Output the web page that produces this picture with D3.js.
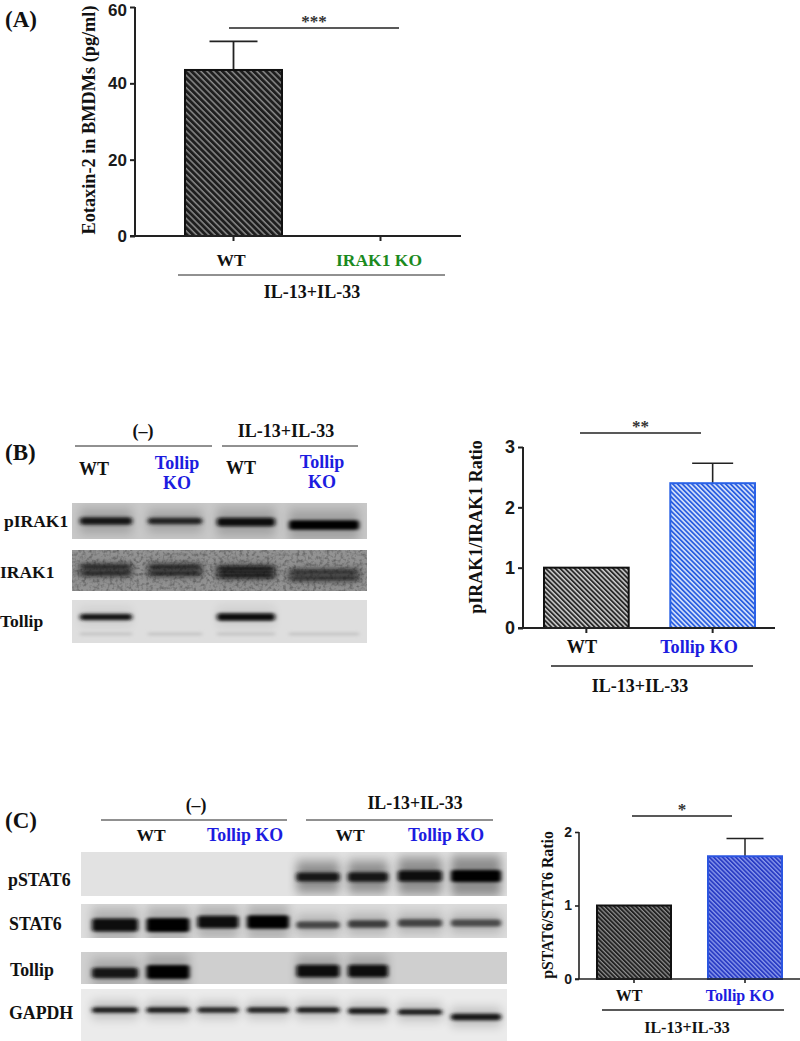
<!DOCTYPE html>
<html><head><meta charset="utf-8">
<script src="https://cdnjs.cloudflare.com/ajax/libs/d3/7.8.5/d3.min.js"></script>
<style>html,body{margin:0;background:#fff}svg{display:block}</style></head>
<body><svg id="c" width="800" height="1041"></svg>
<script>
// ---- data ----
const groupsA = ["WT", "IRAK1 KO"];
const meanA = [43.5, 0];
const errorTopA = [51, null];
const ticksA = [0, 20, 40, 60];

const groupsB = ["WT", "Tollip KO"];
const meanB = [1, 2.4];
const errorTopB = [null, 2.73];
const ticksB = [0, 1, 2, 3];

const groupsC = ["WT", "Tollip KO"];
const meanC = [1, 1.67];
const errorTopC = [null, 1.91];
const ticksC = [0, 1, 2];

// western blots: band strength per lane (0 = no band, 1 = saturated)
const lanesB = ["WT-", "KO-", "WT+", "KO+"];
const blotRowsB = ["pIRAK1", "IRAK1", "Tollip"];
const pIRAK1Bands = [0.72, 0.6, 0.85, 1];
const IRAK1Bands = [0.6, 0.62, 0.82, 0.55];
const TollipBandsB = [0.72, 0, 0.9, 0];

const lanesC = ["WT-1", "WT-2", "KO-1", "KO-2", "WT+1", "WT+2", "KO+1", "KO+2"];
const blotRowsC = ["pSTAT6", "STAT6", "Tollip", "GAPDH"];
const pSTAT6Bands = [0, 0, 0, 0, 0.72, 0.74, 0.88, 1];
const STAT6Bands = [0.9, 1, 0.85, 0.95, 0.35, 0.4, 0.36, 0.32];
const TollipBandsC = [0.72, 1, 0, 0, 0.88, 0.88, 0, 0];
const GAPDHBands = [0.68, 0.68, 0.6, 0.62, 0.68, 0.7, 0.68, 0.78];

const serif = "'Liberation Serif','Times New Roman',serif";
const sans = "'Liberation Sans',Arial,sans-serif";
const BLUE = "#1c1ce0", GREEN = "#1b8a1e", INK = "#111";

const svg = d3.select("#c");
const defs = svg.append("defs");
function hatch(id, bg, fg, period, sw) {
  const p = defs.append("pattern").attr("id", id).attr("patternUnits", "userSpaceOnUse")
    .attr("width", period).attr("height", period).attr("patternTransform", "rotate(45)");
  p.append("rect").attr("width", period).attr("height", period).attr("fill", bg);
  p.append("rect").attr("width", period).attr("height", sw).attr("fill", fg);
}
hatch("hA", "#1e1e1e", "#8a8a8a", 4.4, 1.5);
hatch("hBw", "#2a2a2a", "#cfcfcf", 3.4, 1.5);
hatch("hBk", "#2b5fe0", "#d6e2fb", 3.4, 1.6);
hatch("hCw", "#222", "#909090", 3.1, 1.2);
hatch("hCk", "#2a3cc4", "#8b9aec", 3.1, 1.3);

const f1 = defs.append("filter").attr("id", "band").attr("x", "-20%").attr("y", "-150%").attr("width", "140%").attr("height", "400%");
f1.append("feGaussianBlur").attr("stdDeviation", "2.2 1.5");
const f1b = defs.append("filter").attr("id", "bandSoft").attr("x", "-20%").attr("y", "-300%").attr("width", "140%").attr("height", "700%");
f1b.append("feGaussianBlur").attr("stdDeviation", "3 2.1");
const f2 = defs.append("filter").attr("id", "halo").attr("x", "-30%").attr("y", "-300%").attr("width", "160%").attr("height", "700%");
f2.append("feGaussianBlur").attr("stdDeviation", "5 6");
const f3 = defs.append("filter").attr("id", "grain").attr("x", "0").attr("y", "0").attr("width", "100%").attr("height", "100%");
f3.append("feTurbulence").attr("type", "fractalNoise").attr("baseFrequency", "0.3").attr("numOctaves", 2).attr("seed", 7);
f3.append("feColorMatrix").attr("values", "0 0 0 0 0  0 0 0 0 0  0 0 0 0 0  0 0 0 2.4 -1.05");

function txt(s, x, y, size, opt = {}) {
  const t = svg.append("text").attr("x", x).attr("y", y).text(s)
    .attr("font-family", opt.family || serif).attr("font-weight", "bold")
    .attr("font-size", size).attr("fill", opt.fill || INK)
    .attr("text-anchor", opt.anchor || "middle");
  if (opt.rotate) t.attr("transform", `rotate(-90 ${x} ${y})`);
  return t;
}
function rule(x1, x2, y, w = 1, c = "#222") {
  svg.append("line").attr("x1", x1).attr("x2", x2).attr("y1", y).attr("y2", y).attr("stroke", c).attr("stroke-width", w);
}

function barPanel(o) {
  const y = d3.scaleLinear().domain(o.domain).range([o.y0, o.yTop]);
  const x = d3.scaleBand().domain(o.groups).range(o.xRange).paddingInner(o.inner).paddingOuter(0);
  const g = svg.append("g");
  const rows = o.groups.map((k, i) => ({ k, v: o.mean[i], e: o.err[i], i })).filter(d => d.v > 0);
  const mid = d => x(d.k) + x.bandwidth() / 2;
  const withErr = rows.filter(d => d.e != null);
  g.selectAll("line.stem").data(withErr).join("line").attr("class", "stem").attr("x1", mid).attr("x2", mid)
    .attr("y1", d => y(d.v)).attr("y2", d => y(d.e)).attr("stroke", "#222").attr("stroke-width", o.ew);
  g.selectAll("line.cap").data(withErr).join("line").attr("class", "cap").attr("x1", d => mid(d) - o.cap).attr("x2", d => mid(d) + o.cap)
    .attr("y1", d => y(d.e)).attr("y2", d => y(d.e)).attr("stroke", "#222").attr("stroke-width", o.ew);
  g.selectAll("rect.bar").data(rows).join("rect").attr("class", "bar").attr("x", d => x(d.k)).attr("width", x.bandwidth())
    .attr("y", d => y(d.v)).attr("height", d => y(0) - y(d.v))
    .attr("fill", d => `url(#${o.fills[d.i]})`).attr("stroke", d => o.strokes[d.i]).attr("stroke-width", 2);
  // axes
  const ax = d3.axisLeft(y).tickValues(o.ticks).tickSize(o.tick).tickPadding(3).tickFormat(d3.format("d"));
  const ag = g.append("g").attr("transform", `translate(${o.xAxis},0)`).call(ax);
  ag.selectAll("path,line").attr("stroke", "#222").attr("stroke-width", o.aw);
  ag.select("path").attr("d", `M0,${o.y0}V${o.yTop}`);
  ag.selectAll("text").attr("font-family", sans).attr("font-weight", "bold").attr("font-size", o.tickFont).attr("fill", "#1a1a1a");
  if (o.topNudge) ag.selectAll("text").filter(d => d === o.domain[1]).attr("y", o.topNudge);
  const bx = d3.axisBottom(x).tickSize(o.tick).tickFormat("");
  const bg = g.append("g").attr("transform", `translate(0,${o.y0})`).call(bx);
  bg.selectAll("path,line").attr("stroke", "#222").attr("stroke-width", o.aw);
  bg.select("path").attr("d", `M${o.xAxis - o.tick},0H${o.xEnd}`);
  // labels
  o.groups.forEach((k, i) => txt(k, o.labelX[i], o.labelY, o.labelFont, { fill: o.labelFill[i] }));
  txt(o.ylabel, o.ylabelX, o.ylabelY, o.ylabelFont, { rotate: true });
  rule(o.sig[0], o.sig[1], o.sig[2], 1.4);
  txt(o.stars, (o.sig[0] + o.sig[1]) / 2 + (o.starDx || 0), o.sig[2] - 1, 17, { fill: "#333" });
  rule(o.under[0], o.under[1], o.under[2], o.underW);
  txt("IL-13+IL-33", o.trt[0], o.trt[1], o.trtFont);
}

barPanel({ groups: groupsA, mean: meanA, err: errorTopA, ticks: ticksA, domain: [0, 60], y0: 236, yTop: 7,
  xRange: [185, 429], inner: 50 / 147, xAxis: 135, xEnd: 461, fills: ["hA", "hA"], strokes: ["#111", "#111"],
  cap: 24, ew: 1.8, aw: 2, tick: 5, tickFont: 17, topNudge: 3, labelX: [231, 379], labelY: 266, labelFont: 17.5, labelFill: [INK, GREEN],
  ylabel: "Eotaxin-2 in BMDMs (pg/ml)", ylabelX: 95, ylabelY: 120, ylabelFont: 18.3,
  sig: [229, 399, 28], stars: "***", under: [178, 445, 275], underW: 1, trt: [312, 298], trtFont: 18 });

barPanel({ groups: groupsB, mean: meanB, err: errorTopB, ticks: ticksB, domain: [0, 3], y0: 628, yTop: 447,
  xRange: [544, 755], inner: 41.5 / 126, xAxis: 523, xEnd: 775, fills: ["hBw", "hBk"], strokes: ["#111", "#2a62e6"],
  cap: 20.5, ew: 1.6, aw: 2, tick: 5, tickFont: 18, labelX: [582, 699], labelY: 653, labelFont: 18.2, labelFill: [INK, BLUE],
  ylabel: "pIRAK1/IRAK1 Ratio", ylabelX: 482, ylabelY: 527, ylabelFont: 18,
  sig: [580, 701, 433], stars: "**", under: [551, 753, 666], underW: 1.4, trt: [640, 692], trtFont: 18 });

barPanel({ groups: groupsC, mean: meanC, err: errorTopC, ticks: ticksC, domain: [0, 2], y0: 979, yTop: 832,
  xRange: [597, 782], inner: 37 / 111, xAxis: 579, xEnd: 800, fills: ["hCw", "hCk"], strokes: ["#111", "#2b55e0"],
  cap: 18.5, ew: 1.5, aw: 1.6, tick: 4, tickFont: 14, labelX: [629, 740], labelY: 1001, labelFont: 16, labelFill: [INK, BLUE],
  ylabel: "pSTAT6/STAT6 Ratio", ylabelX: 553, ylabelY: 905, ylabelFont: 15.8,
  sig: [632, 732, 816], stars: "*", under: [602, 784, 1010], underW: 1.4, trt: [687, 1033], trtFont: 16 });

// ---- blots ----
function blot(o) {
  const cx = d3.scaleOrdinal().domain(o.lanes).range(o.centers);
  const w = d3.scaleOrdinal().domain(o.lanes).range(o.widths);
  o.rows.forEach((r, ri) => {
    const clipId = `clip${o.id}${ri}`;
    defs.append("clipPath").attr("id", clipId).append("rect").attr("x", o.x0).attr("width", o.x1 - o.x0).attr("y", r.y0).attr("height", r.y1 - r.y0);
    const g = svg.append("g").attr("clip-path", `url(#${clipId})`);
    g.append("rect").attr("x", o.x0).attr("width", o.x1 - o.x0).attr("y", r.y0).attr("height", r.y1 - r.y0).attr("fill", r.bg);
    if (r.grain) g.append("rect").attr("x", o.x0).attr("width", o.x1 - o.x0).attr("y", r.y0).attr("height", r.y1 - r.y0).attr("filter", "url(#grain)").attr("opacity", r.grain);
    const thick = d3.scaleLinear().domain([0, 1]).range(r.thick);
    const shade = d3.scaleLinear().domain([0, 1]).range([r.bg, "#000"]).clamp(true);
    const data = o.lanes.map((l, i) => ({ l, v: r.values[i], dy: r.dy ? r.dy[i] : 0 }));
    const hh = r.haloH || 2.6;
    g.selectAll("rect.halo").data(data.filter(d => d.v > 0)).join("rect").attr("class", "halo")
      .attr("x", d => cx(d.l) - w(d.l) / 2).attr("width", d => w(d.l))
      .attr("y", d => r.y + d.dy - thick(d.v) * hh / 2).attr("height", d => thick(d.v) * hh)
      .attr("fill", "#000").attr("opacity", r.halo).attr("filter", "url(#halo)");
    const offsets = r.double ? [-r.double, r.double] : [0];
    offsets.forEach(off => {
      g.selectAll(null).data(data.filter(d => d.v > 0)).join("rect")
        .attr("x", d => cx(d.l) - w(d.l) / 2).attr("width", d => w(d.l))
        .attr("y", d => r.y + d.dy + off - thick(d.v) / 2).attr("height", d => thick(d.v))
        .attr("rx", 3).attr("fill", d => shade(Math.pow(d.v, 0.35))).attr("filter", r.soft ? "url(#bandSoft)" : "url(#band)");
    });
    if (r.faint) {
      g.selectAll(null).data(o.lanes).join("rect").attr("x", d => cx(d) - w(d) / 2).attr("width", w)
        .attr("y", r.faint - 1.5).attr("height", 3).attr("fill", "#c4c4c4").attr("filter", "url(#band)");
    }
    txt(r.name, r.lx, r.ly, o.labelFont, { anchor: "start" });
  });
}

blot({ id: "B", lanes: lanesB, centers: [106, 175, 246, 324], widths: [52, 54, 58, 70], x0: 72, x1: 367, labelFont: 17.5,
  rows: [
    { name: blotRowsB[0], values: pIRAK1Bands, y0: 503, y1: 539, y: 521, bg: "#c8c8c8", thick: [2, 9.5], halo: 0.2, haloH: 3.2, dy: [0, 0, 1, 4], lx: 4, ly: 527 },
    { name: blotRowsB[1], values: IRAK1Bands, y0: 550, y1: 591, y: 570, bg: "#939393", thick: [1.5, 6.5], halo: 0.25, double: 3.2, soft: true, dy: [0, 0, 2, 5], grain: 0.3, lx: 0, ly: 578 },
    { name: blotRowsB[2], values: TollipBandsB, y0: 600, y1: 643, y: 617, bg: "#dedede", thick: [2, 8], halo: 0.08, faint: 634, lx: 0, ly: 627 }
  ] });

blot({ id: "C", lanes: lanesC, centers: [115, 168, 218, 268, 318, 368, 420, 476], widths: [46, 43, 41, 42, 43, 40, 44, 50], x0: 81, x1: 507, labelFont: 17.8,
  rows: [
    { name: blotRowsC[0], values: pSTAT6Bands, y0: 852, y1: 896, y: 877, bg: "#e2e2e2", thick: [2, 12], halo: 0.38, haloH: 3.4, dy: [0, 0, 0, 0, 0, 0, -1, -1], lx: 8, ly: 886 },
    { name: blotRowsC[1], values: STAT6Bands, y0: 904, y1: 938, y: 924, bg: "#dcdcdc", thick: [3.5, 14], halo: 0.2, dy: [1, 1, -2, -2, 1, 0, -1, -1], lx: 9, ly: 930 },
    { name: blotRowsC[2], values: TollipBandsC, y0: 952, y1: 984, y: 972, bg: "#cfcfcf", thick: [2, 14], halo: 0.2, dy: [1, 0, 0, 0, -1, -1, 0, 0], lx: 10, ly: 976 },
    { name: blotRowsC[3], values: GAPDHBands, y0: 989, y1: 1041, y: 1010, bg: "#ebebeb", thick: [2, 7.5], halo: 0.22, dy: [0, 0, 0, 0, 0, 1, 2, 7], lx: 9, ly: 1019 }
  ] });

// ---- headers and panel letters ----
txt("(A)", 5, 27, 23, { anchor: "start" });
txt("(B)", 5, 460, 23, { anchor: "start" });
txt("(C)", 5, 828, 23, { anchor: "start" });

txt("(–)", 143, 437, 18); rule(75, 212, 446);
txt("IL-13+IL-33", 286, 437, 18); rule(222, 358, 446);
txt("WT", 94, 475, 18); txt("WT", 241, 474, 18);
txt("Tollip", 177, 469, 18, { fill: BLUE }); txt("KO", 177, 489, 18, { fill: BLUE });
txt("Tollip", 322, 468, 18, { fill: BLUE }); txt("KO", 322, 488, 18, { fill: BLUE });

txt("(–)", 196, 811, 17.8); rule(101, 287, 820);
txt("IL-13+IL-33", 415, 809, 17.8); rule(306, 493, 820);
txt("WT", 151, 841, 17.5); txt("Tollip KO", 245, 841, 17.8, { fill: BLUE });
txt("WT", 350, 841, 17.5); txt("Tollip KO", 446, 841, 17.8, { fill: BLUE });
</script></body></html>
